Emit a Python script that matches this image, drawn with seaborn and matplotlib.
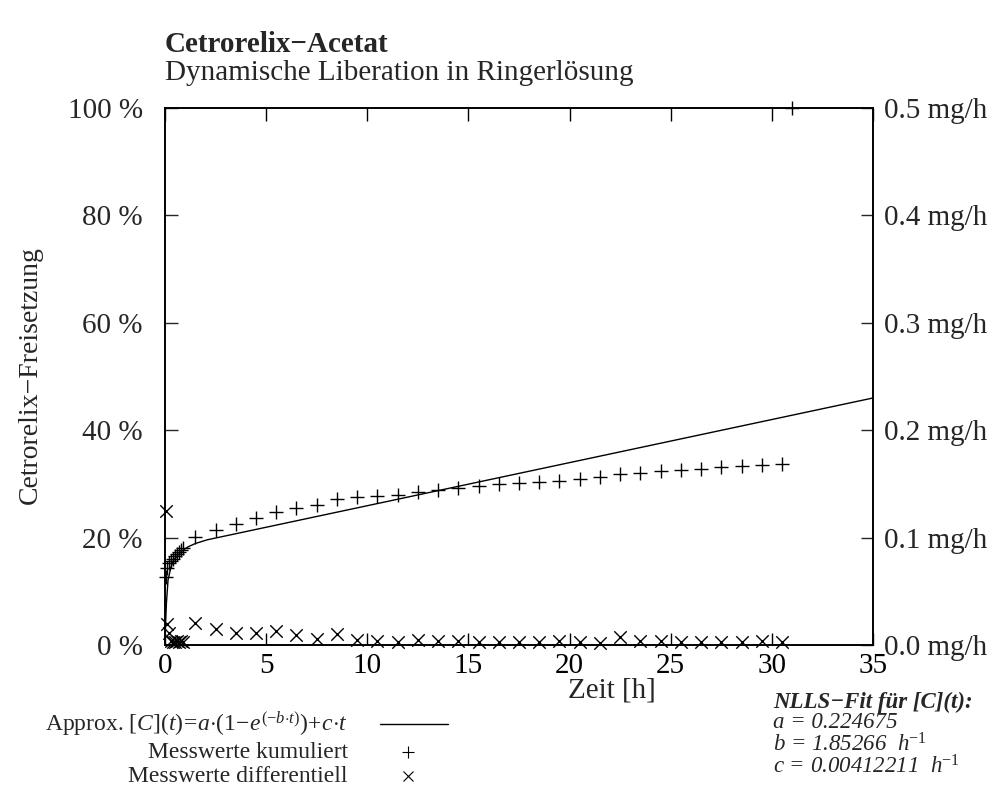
import numpy as np
import pandas as pd
import seaborn as sns
import matplotlib.pyplot as plt

# measured cumulative release (%) and differential release rate (mg/h)
zeit = [0.03, 0.08, 0.2, 0.3, 0.4, 0.5, 0.6, 0.7, 0.8, 0.9,
        1.5, 2.5, 3.5, 4.5, 5.5, 6.5, 7.5, 8.5, 9.5, 10.5,
        11.5, 12.5, 13.5, 14.5, 15.5, 16.5, 17.5, 18.5, 19.5, 20.5,
        21.5, 22.5, 23.5, 24.5, 25.5, 26.5, 27.5, 28.5, 29.5, 30.5]
kumuliert = [12.7, 14.3, 15.3, 15.7, 16.1, 16.5, 16.9, 17.3, 17.6, 18.0,
             20.1, 21.4, 22.5, 23.6, 24.7, 25.6, 26.1, 27.2, 27.5, 27.7,
             28.0, 28.4, 28.9, 29.2, 29.6, 29.9, 30.1, 30.4, 30.6, 30.9,
             31.2, 31.8, 32.1, 32.4, 32.6, 32.8, 33.1, 33.3, 33.5, 33.7]
differentiell = [0.125, 0.0195, 0.011, 0.004, 0.003, 0.003, 0.004, 0.003, 0.004, 0.003,
                 0.0205, 0.015, 0.011, 0.0115, 0.0133, 0.0093, 0.006, 0.0102, 0.0047, 0.004,
                 0.003, 0.005, 0.004, 0.004, 0.003, 0.003, 0.003, 0.003, 0.0035, 0.003,
                 0.002, 0.007, 0.0035, 0.0035, 0.003, 0.003, 0.003, 0.003, 0.0035, 0.0025]
# final normalisation point
zeit_end = [31.0]
kumuliert_end = [100.0]

# fitted curve as drawn
fit_t = [0.0, 0.03, 0.07, 0.15, 0.3, 0.45, 0.65, 0.9, 1.15, 1.5, 2.1, 35.0]
fit_y = [0.0, 4.0, 7.8, 12.1, 14.6, 15.9, 16.8, 17.7, 18.3, 18.9, 19.6, 46.0]

xticks = [0, 5, 10, 15, 20, 25, 30, 35]
yticks_left = [0, 20, 40, 60, 80, 100]
yticks_right = [0.0, 0.1, 0.2, 0.3, 0.4, 0.5]

sns.set_style("ticks")
plt.rcParams['font.family'] = ['Liberation Serif', 'DejaVu Serif']
plt.rcParams['mathtext.fontset'] = 'custom'
plt.rcParams['mathtext.rm'] = 'Liberation Serif'
plt.rcParams['mathtext.it'] = 'Liberation Serif:italic'
plt.rcParams['mathtext.bf'] = 'Liberation Serif:bold'

df_cum = pd.DataFrame({"t": zeit + zeit_end, "y": kumuliert + kumuliert_end})
df_diff = pd.DataFrame({"t": zeit, "y": differentiell})
df_fit = pd.DataFrame({"t": fit_t, "y": fit_y})

fig = plt.figure(figsize=(10.04, 7.93), dpi=100)
ax = fig.add_axes([165 / 1004, 1 - 645 / 793, (873 - 165) / 1004, (645 - 108) / 793])
ax2 = ax.twinx()

sns.lineplot(data=df_fit, x="t", y="y", ax=ax, color="black", linewidth=1.0)
sns.scatterplot(data=df_cum, x="t", y="y", ax=ax, marker="+", color="black",
                s=110, linewidth=1.0, clip_on=False)
sns.scatterplot(data=df_diff, x="t", y="y", ax=ax2, marker="x", color="black",
                s=80, linewidth=1.0, clip_on=False)

ax.set_xlim(0, 35)
ax.set_ylim(0, 100)
ax2.set_ylim(0, 0.5)
ax.set_xticks(xticks)
ax.set_yticks(yticks_left)
ax.set_yticklabels([f"{v} %" for v in yticks_left])
ax2.set_yticks(yticks_right)
ax2.set_yticklabels([f"{v:.1f} mg/h" for v in yticks_right])
ax.set_xlabel("")
ax.set_ylabel("")
ax2.set_ylabel("")

ax.tick_params(axis="x", direction="in", length=9, width=1, top=True,
               labelsize=21, pad=6, colors="black")
ax.tick_params(axis="y", direction="in", length=9, width=1, right=False,
               labelsize=21, pad=16)
ax2.tick_params(axis="y", direction="in", length=9, width=1, labelsize=21, pad=8)
for a in (ax, ax2):
    for s in a.spines.values():
        s.set_visible(True)
        s.set_linewidth(1.2)
        s.set_color("black")

fig.text(165 / 1004, 1 - 44 / 793, "Cetrorelix\u2212Acetat", fontsize=21,
         fontweight="bold", va="center")
fig.text(165 / 1004, 1 - 73 / 793, "Dynamische Liberation in Ringerlösung",
         fontsize=21, va="center")
fig.text(30 / 1004, 1 - 375 / 793, "Cetrorelix\u2212Freisetzung", fontsize=20,
         rotation=90, va="center", ha="center")
fig.text(612 / 1004, 1 - 690 / 793, "Zeit [h]", fontsize=21, ha="center", va="center")

# legend
leg_rows = [r"Approx. $\mathit{[C](t)\!=\!a{\cdot}(1\!-\!e^{(-b{\cdot}t)})\!+\!c{\cdot}t}$",
            "Messwerte kumuliert", "Messwerte differentiell"]
leg_y = [724, 752, 776]
for txt, yy in zip(leg_rows, leg_y):
    fig.text(348 / 1004, 1 - yy / 793, txt, fontsize=17, ha="right", va="center")
fig.add_artist(plt.Line2D([380 / 1004, 448 / 1004], [1 - 724 / 793, 1 - 724 / 793],
                          color="black", linewidth=1.0))
fig.add_artist(plt.Line2D([408 / 1004], [1 - 752 / 793], marker="+", color="black",
                          markersize=9, markeredgewidth=0.8, linestyle="none"))
fig.add_artist(plt.Line2D([408 / 1004], [1 - 776 / 793], marker="x", color="black",
                          markersize=7, markeredgewidth=0.8, linestyle="none"))

# fit parameters
fit_rows = [("NLLS\u2212Fit für [C](t):", "bold"),
            ("a = 0.224675", "normal"),
            (r"b = 1.85266  h$^{-1}$", "normal"),
            (r"c = 0.00412211  h$^{-1}$", "normal")]
fit_ypos = [702, 723, 745, 767]
for (txt, w), yy in zip(fit_rows, fit_ypos):
    fig.text(773 / 1004, 1 - yy / 793, txt, fontsize=16.5, style="italic",
             fontweight=w, ha="left", va="center")

plt.savefig("out.png", dpi=100)
print("Saved out.png")
